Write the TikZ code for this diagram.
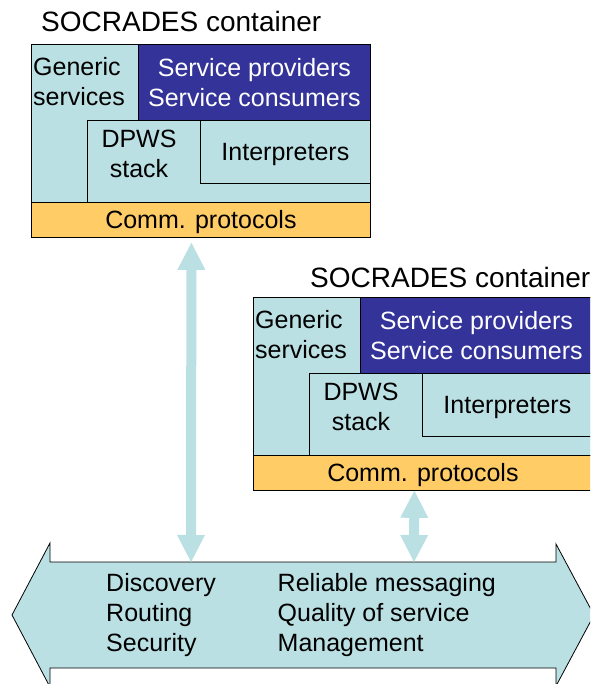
\documentclass[tikz,border=0pt]{standalone}
\usepackage{fontspec}
\setmainfont{Liberation Sans}
\usetikzlibrary{arrows.meta}
\definecolor{pale}{RGB}{187,224,227}
\definecolor{navy}{RGB}{51,51,153}
\definecolor{amber}{RGB}{255,204,102}
\tikzset{
	block/.style={draw,line width=0.8pt,anchor=north west,inner sep=0pt,font=\fontsize{25}{30}\selectfont,align=center},
	txt/.style={inner sep=0pt,font=\fontsize{25}{30}\selectfont},
	heading/.style={inner sep=0pt,font=\fontsize{28}{34}\selectfont,anchor=base west},
	link/.style={pale,line width=10pt,{Triangle[width=28pt,length=27pt,line width=0pt]}-{Triangle[width=28pt,length=27pt,line width=0pt]}}
}

\begin{document}
\begin{tikzpicture}[x=1pt,y=-1pt]
			\useasboundingbox (0,0) rectangle (590,684);
			\clip (0,0) rectangle (590,684);
			\node[heading] (title1) at (41,32) {SOCRADES container};
			\node[block,fill=pale,minimum width=339pt,minimum height=158pt] (frame1) at (31,44) {};
			\node[block,fill=navy,text=white,minimum width=232pt,minimum height=76pt] (prov1) at (138,44) {Service providers\\Service consumers};
			\node[block,fill=pale,minimum width=283pt,minimum height=82pt] (dpws1) at (87,120) {};
			\node[block,fill=pale,text depth=0pt,minimum width=170pt,minimum height=63pt] (interp1) at (200,120) {Interpreters};
			\node[block,fill=amber,text depth=1pt,minimum width=339pt,minimum height=35pt] (comm1) at (31,202) {Comm. protocols};
			\node[txt,align=left,anchor=north west] (gen1) at (33,57) {Generic\\services};
			\node[txt,align=center] (stack1) at (139,154) {DPWS\\stack};
			\node[heading] (title2) at (310,287) {SOCRADES container};
			\begin{scope}[shift={(222,253)}]
				\node[block,fill=pale,minimum width=339pt,minimum height=158pt] (frame2) at (31,44) {};
				\node[block,fill=navy,text=white,minimum width=232pt,minimum height=76pt] (prov2) at (138,44) {Service providers\\Service consumers};
				\node[block,fill=pale,minimum width=283pt,minimum height=82pt] (dpws2) at (87,120) {};
				\node[block,fill=pale,text depth=0pt,minimum width=170pt,minimum height=63pt] (interp2) at (200,120) {Interpreters};
				\node[block,fill=amber,text depth=1pt,minimum width=339pt,minimum height=35pt] (comm2) at (31,202) {Comm. protocols};
				\node[txt,align=left,anchor=north west] (gen2) at (33,57) {Generic\\services};
				\node[txt,align=center] (stack2) at (139,154) {DPWS\\stack};
			\end{scope}
			% bus
			\draw[line width=0.8pt,fill=pale] (12,615) -- (50,543) -- (50,562) -- (556,562) -- (556,544) -- (594,615) -- (556,686) -- (556,668) -- (50,668) -- (50,687) -- cycle;
			\coordinate (tap1) at (191,562);
			\coordinate (tap2) at (414,562);
			\node[txt,align=left,anchor=north west] (svc1) at (106,573.5) {Discovery\\Routing\\Security};
			\node[txt,align=left,anchor=north west] (svc2) at (277.5,573.5) {Reliable messaging\\Quality of service\\Management};
			\draw[link] ([xshift=-9.5pt,yshift=-5pt]comm1.south) -- (tap1);
			\draw[link] ([xshift=-8.5pt]comm2.south) -- (tap2);
		\end{tikzpicture}
\end{document}
